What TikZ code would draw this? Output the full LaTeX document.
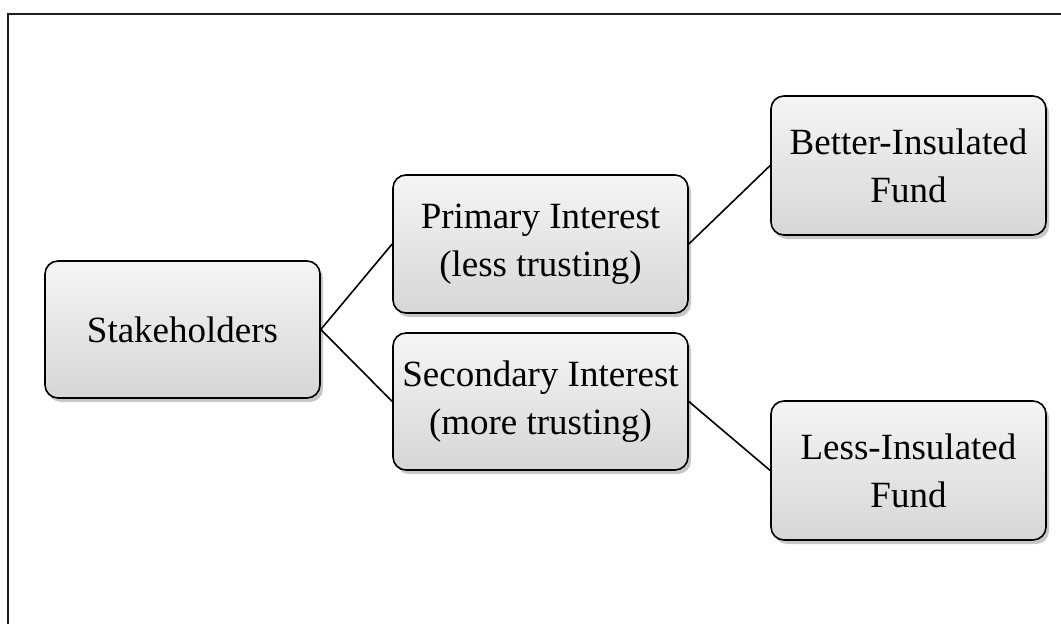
\documentclass[tikz,border=0pt]{standalone}
\usepackage{fontspec}
\setmainfont{Liberation Serif}
\usetikzlibrary{shadows}
\begin{document}
\begin{tikzpicture}[x=1pt,y=-1pt,
  box/.style={draw=black, line width=1.6pt, rounded corners=13pt,
    top color=gray!8, bottom color=gray!32, align=center,
    inner sep=0pt, font=\fontsize{37}{48}\selectfont,
    drop shadow={shadow xshift=3pt, shadow yshift=-4pt, opacity=0.22, fill=black}},
  link/.style={draw=black, line width=1.6pt},
  frame/.style={draw=black!88, line width=2pt}]
\useasboundingbox (0,0) rectangle (1061,624);
\coordinate (fbl) at (8,624);
\coordinate (ftl) at (8,14);
\coordinate (ftr) at (1061,14);
\draw[frame] (fbl) -- (ftl) -- (ftr);
\node[box, minimum width=275pt, minimum height=137pt] (st) at (182.5,329.5) {Stakeholders};
\node[box, minimum width=295pt, minimum height=138pt] (pr) at (540.5,244) {Primary Interest\\(less trusting)};
\node[box, minimum width=295pt, minimum height=137pt] (se) at (540.5,401.5) {Secondary Interest\\(more trusting)};
\node[box, minimum width=275pt, minimum height=139pt] (be) at (908.5,165.5) {Better-Insulated\\Fund};
\node[box, minimum width=275pt, minimum height=139pt] (le) at (908.5,470.5) {Less-Insulated\\Fund};
\draw[link] (st.east) -- (pr.west);
\draw[link] (st.east) -- (se.west);
\draw[link] (pr.east) -- (be.west);
\draw[link] (se.east) -- (le.west);
\end{tikzpicture}
\end{document}
